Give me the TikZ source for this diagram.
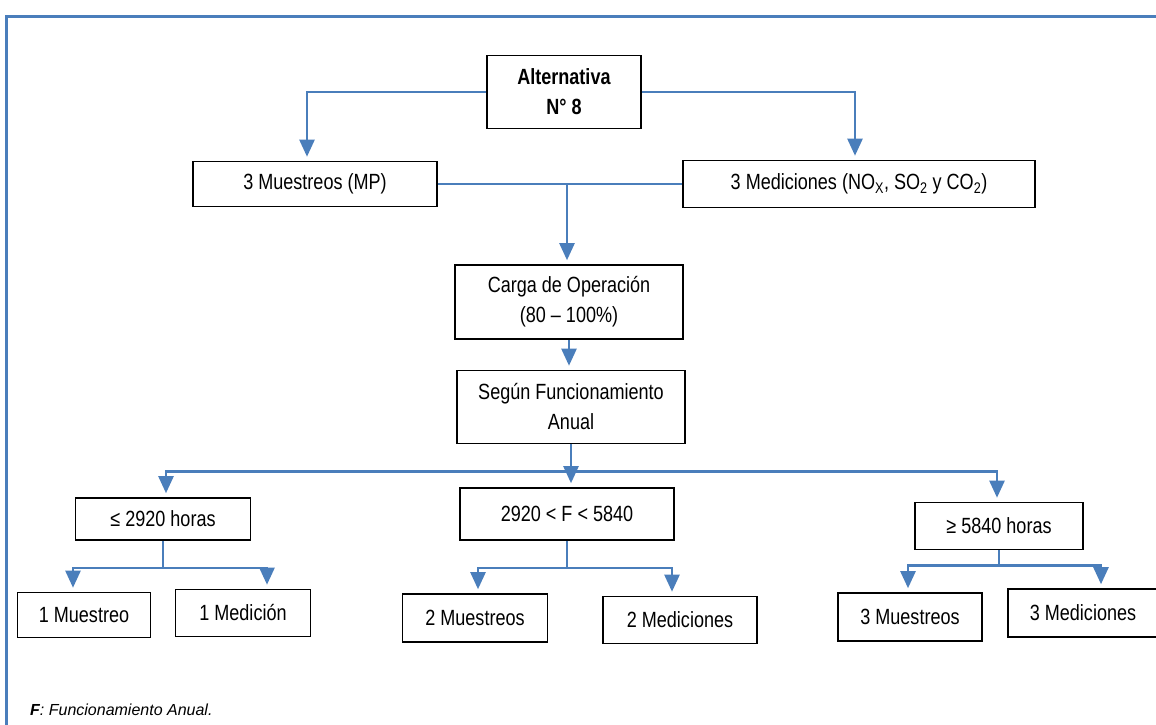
\documentclass[tikz,border=0pt]{standalone}
\usepackage{fontspec}
\setmainfont[FakeStretch=0.82]{Liberation Sans}
\newfontfamily\notefont{Liberation Sans}
\usetikzlibrary{positioning, arrows.meta, calc}

\definecolor{flowblue}{RGB}{74,126,187}

\tikzset{
    box/.style={draw, line width=1.6pt, align=center, inner sep=0pt,
        font=\fontsize{22}{30}\selectfont},
    link/.style={flowblue, line width=2.4pt},
    flow/.style={link, -{Triangle[length=17pt, width=15pt]}, shorten >=4pt},
}

\begin{document}
\begin{tikzpicture}[x=1pt, y=-1pt]
    \useasboundingbox (0,0) rectangle (1156,725);

    % frame (top and left edges only)
    \draw[flowblue, line width=3pt] (6,725) -- (6,17) -- (1156,17);

    % top level
    \node[box, minimum width=154pt, minimum height=73pt] (alt) at (564,92)
        {\textbf{Alternativa}\\\textbf{N° 8}};
    \node[box, minimum width=244pt, minimum height=45pt] (mue) at (315,184)
        {3 Muestreos (MP)};
    \node[box, minimum width=352pt, minimum height=47pt] (med) at (859,184)
        {3 Mediciones (NO\textsubscript{X}, SO\textsubscript{2} y CO\textsubscript{2})};

    % operation load and annual use
    \node[box, minimum width=228pt, minimum height=74pt] (car) at (569,302)
        {Carga de Operación\\(80 – 100\%)};
    \node[box, minimum width=228pt, minimum height=73pt] (seg) at (571,407)
        {Según Funcionamiento\\Anual};

    % hour ranges
    \node[box, minimum width=175pt, minimum height=42pt] (h1) at (163,519)
        {≤ 2920 horas};
    \node[box, minimum width=214pt, minimum height=52pt] (h2) at (567,514)
        {2920 < F < 5840};
    \node[box, minimum width=168pt, minimum height=47pt] (h3) at (999,526)
        {≥ 5840 horas};

    % results
    \node[box, minimum width=133pt, minimum height=45pt] (m1) at (84,615) {1 Muestreo};
    \node[box, minimum width=135pt, minimum height=47pt] (d1) at (243,613) {1 Medición};
    \node[box, minimum width=145pt, minimum height=48pt] (m2) at (475,618) {2 Muestreos};
    \node[box, minimum width=154pt, minimum height=47pt] (d2) at (680,620) {2 Mediciones};
    \node[box, minimum width=144pt, minimum height=48pt] (m3) at (910,617) {3 Muestreos};
    \node[box, minimum width=150pt, minimum height=48pt] (d3) at (1083,613) {3 Mediciones};

    % note
    \node[anchor=base west, inner sep=0pt, font=\notefont\fontsize{16}{18}\selectfont\itshape]
        (nota) at (30,715) {\textbf{F}: Funcionamiento Anual.};

    % connectors, top
    \draw[flow] (alt.west) -| ([xshift=-8pt]mue.north);
    \draw[flow] (alt.east) -| ([xshift=-4pt]med.north);
    \draw[link, line width=1.8pt] (mue.east) -- (med.west);
    \draw[flow] ([xshift=-2pt]car.north |- mue.east) -- ([xshift=-2pt]car.north);
    \draw[flow] (car.south) -- (car.south |- seg.north);

    % connectors, annual use
    \draw[link] (seg.south) -- ++(0,27) coordinate (j0);
    \draw[flow] (j0) -| ([xshift=3pt]h1.north);
    \draw[flow] (j0) -- (j0 |- h2.north);
    \draw[flow] (j0) -| ([xshift=-2pt]h3.north);

    % connectors, results
    \draw[link] (h1.south) -- ++(0,27) coordinate (j1);
    \draw[flow] (j1) -| ([xshift=-11pt]m1.north);
    \draw[flow] (j1) -| ([xshift=24pt]d1.north);
    \draw[link] (h2.south) -- ++(0,27) coordinate (j2);
    \draw[flow] (j2) -| ([xshift=3pt]m2.north);
    \draw[flow] (j2) -| ([xshift=-8pt]d2.north);
    \draw[link] (h3.south) -- ++(0,15) coordinate (j3);
    \draw[flow] (j3) -| ([xshift=-2pt]m3.north);
    \draw[flow] (j3) -| ([xshift=18pt]d3.north);
\end{tikzpicture}
\end{document}
